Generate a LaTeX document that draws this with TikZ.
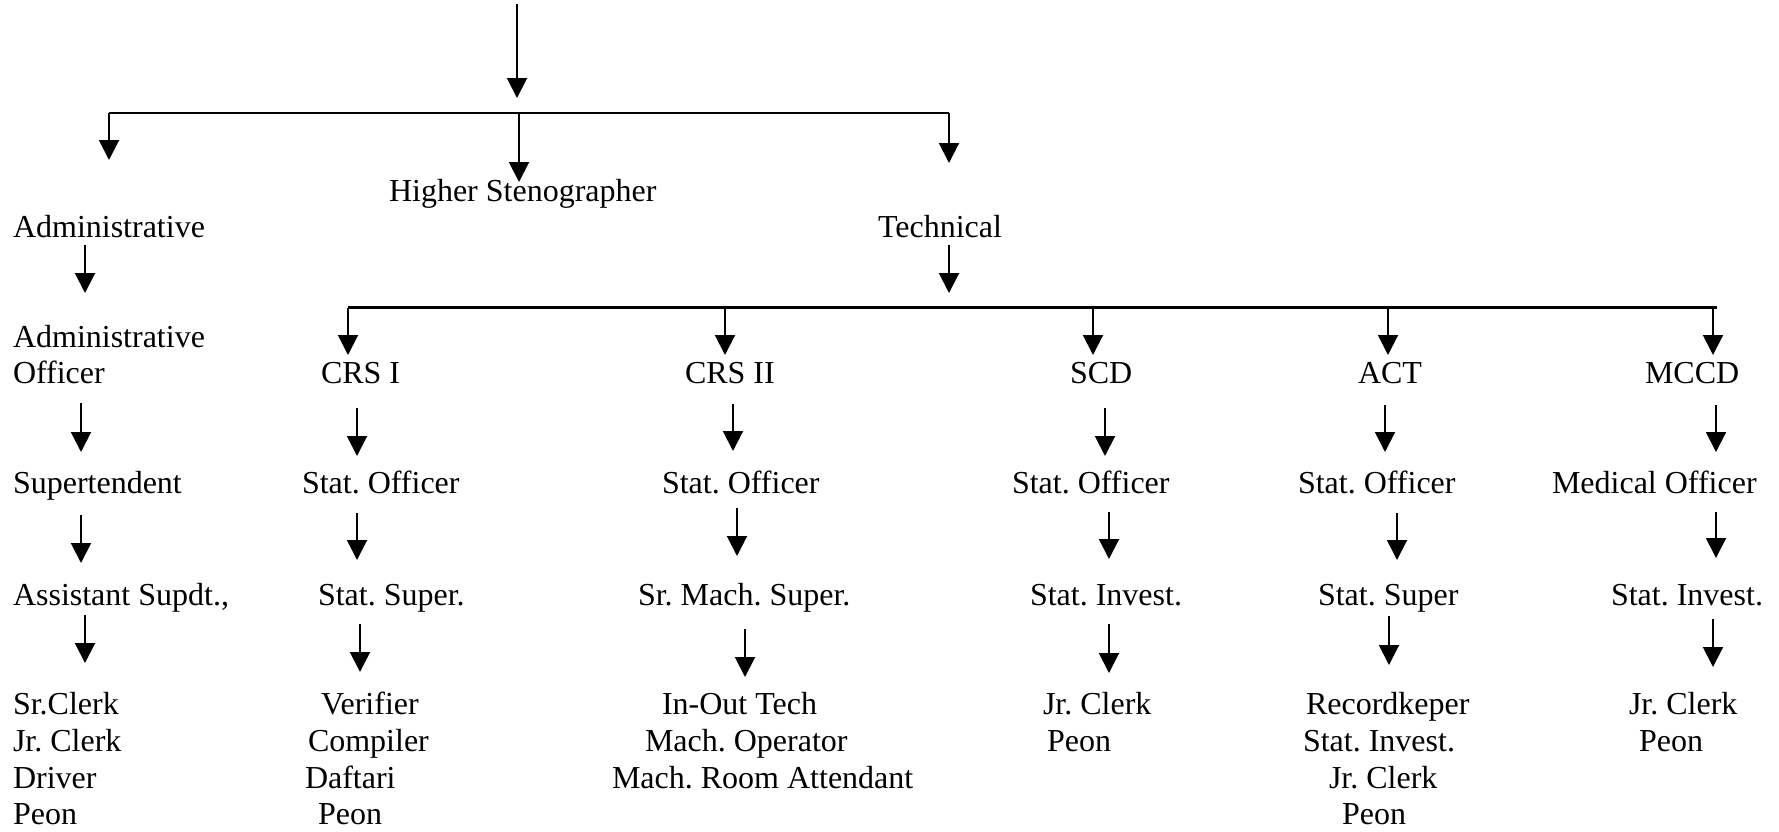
\documentclass[tikz,border=0pt]{standalone}
\usepackage{fontspec}
\setmainfont{Liberation Serif}
\usetikzlibrary{arrows.meta}
\begin{document}
\begin{tikzpicture}[x=0.5pt,y=-0.5pt,
  lbl/.style={anchor=base west,inner sep=0pt,outer sep=0pt,font=\fontsize{16pt}{18.4pt}\selectfont\frenchspacing},
  arr/.style={-{Triangle[length=10pt,width=10pt]},line width=1pt},
  bar/.style={line width=1.3pt}]
\useasboundingbox (0,0) rectangle (1779,831);
% ---- top level
\coordinate (top) at (517,4);
\coordinate (topE) at (517,98);
\coordinate (b1L) at (109,113);
\coordinate (b1M) at (519,113);
\coordinate (b1R) at (949,113);
\coordinate (admE) at (109,160);
\coordinate (stenE) at (519,182);
\coordinate (techE) at (949,163);
\draw[arr] (top) -- (topE);
\draw[bar] (b1L) -- (b1R);
\draw[arr] (b1L) -- (admE);
\draw[arr] (b1M) -- (stenE);
\draw[arr] (b1R) -- (techE);
\node[lbl] (adm) at (13,237) {Administrative};
\node[lbl] (sten) at (389,201) {Higher Stenographer};
\node[lbl] (tech) at (878,237) {Technical};
% ---- second level
\coordinate (a0s) at (85,245); \coordinate (a0e) at (85,293);
\draw[arr] (a0s) -- (a0e);
\coordinate (t0s) at (949,245); \coordinate (t0e) at (949,293);
\draw[arr] (t0s) -- (t0e);
\coordinate (b2L) at (348,307.5);
\coordinate (b2R) at (1717,307.5);
\draw[bar] (b2L) -- (b2R);
\foreach \n/\x in {crsI/348,crsII/725,scd/1093,act/1388,mccd/1713}{
  \coordinate (\n T) at (\x,307.5);
  \coordinate (\n E) at (\x,355);
  \draw[arr] (\n T) -- (\n E);
}
% ---- row 1
\node[lbl] (ao1) at (13,347) {Administrative};
\node[lbl] (ao2) at (13,383) {Officer};
\node[lbl] (crsI) at (321,383) {CRS I};
\node[lbl] (crsII) at (685,383) {CRS II};
\node[lbl] (scd) at (1070,383) {SCD};
\node[lbl] (act) at (1358,383) {ACT};
\node[lbl] (mccd) at (1645,383) {MCCD};
% arrows row 1
\foreach \n/\x/\s/\e in {r1a/81/403/452,r1b/357/408/456,r1c/733/404/451,r1d/1105/408/456,r1e/1385/405/452,r1f/1716/405/452}{
  \coordinate (\n s) at (\x,\s); \coordinate (\n e) at (\x,\e);
  \draw[arr] (\n s) -- (\n e);
}
% ---- row 2
\node[lbl] (supt) at (13,493) {Supertendent};
\node[lbl] (so1) at (302,493) {Stat. Officer};
\node[lbl] (so2) at (662,493) {Stat. Officer};
\node[lbl] (so3) at (1012,493) {Stat. Officer};
\node[lbl] (so4) at (1298,493) {Stat. Officer};
\node[lbl] (medo) at (1552,493) {Medical Officer};
% arrows row 2
\foreach \n/\x/\s/\e in {r2a/81/515/563,r2b/357/513/560,r2c/737/508/556,r2d/1109/512/559,r2e/1397/513/560,r2f/1716/512/558}{
  \coordinate (\n s) at (\x,\s); \coordinate (\n e) at (\x,\e);
  \draw[arr] (\n s) -- (\n e);
}
% ---- row 3
\node[lbl] (asup) at (13,605) {Assistant Supdt.,};
\node[lbl] (ss1) at (318,605) {Stat. Super.};
\node[lbl] (sms) at (638,605) {Sr. Mach. Super.};
\node[lbl] (si1) at (1030,605) {Stat. Invest.};
\node[lbl] (ss2) at (1318,605) {Stat. Super};
\node[lbl] (si2) at (1611,605) {Stat. Invest.};
% arrows row 3
\foreach \n/\x/\s/\e in {r3a/85/615/663,r3b/360/624/672,r3c/745/629/677,r3d/1109/624/673,r3e/1389/616/665,r3f/1713/619/667}{
  \coordinate (\n s) at (\x,\s); \coordinate (\n e) at (\x,\e);
  \draw[arr] (\n s) -- (\n e);
}
% ---- row 4 lists
\node[lbl] (l1a) at (13,714) {Sr.Clerk};
\node[lbl] (l1b) at (13,751) {Jr. Clerk};
\node[lbl] (l1c) at (13,788) {Driver};
\node[lbl] (l1d) at (13,824) {Peon};
\node[lbl] (l2a) at (321,714) {Verifier};
\node[lbl] (l2b) at (308,751) {Compiler};
\node[lbl] (l2c) at (305,788) {Daftari};
\node[lbl] (l2d) at (318,824) {Peon};
\node[lbl] (l3a) at (662,714) {In-Out Tech};
\node[lbl] (l3b) at (645,751) {Mach. Operator};
\node[lbl] (l3c) at (612,788) {Mach. Room Attendant};
\node[lbl] (l4a) at (1043,714) {Jr. Clerk};
\node[lbl] (l4b) at (1047,751) {Peon};
\node[lbl] (l5a) at (1306,714) {Recordkeper};
\node[lbl] (l5b) at (1303,751) {Stat. Invest.};
\node[lbl] (l5c) at (1329,788) {Jr. Clerk};
\node[lbl] (l5d) at (1342,824) {Peon};
\node[lbl] (l6a) at (1629,714) {Jr. Clerk};
\node[lbl] (l6b) at (1639,751) {Peon};
\end{tikzpicture}
\end{document}
